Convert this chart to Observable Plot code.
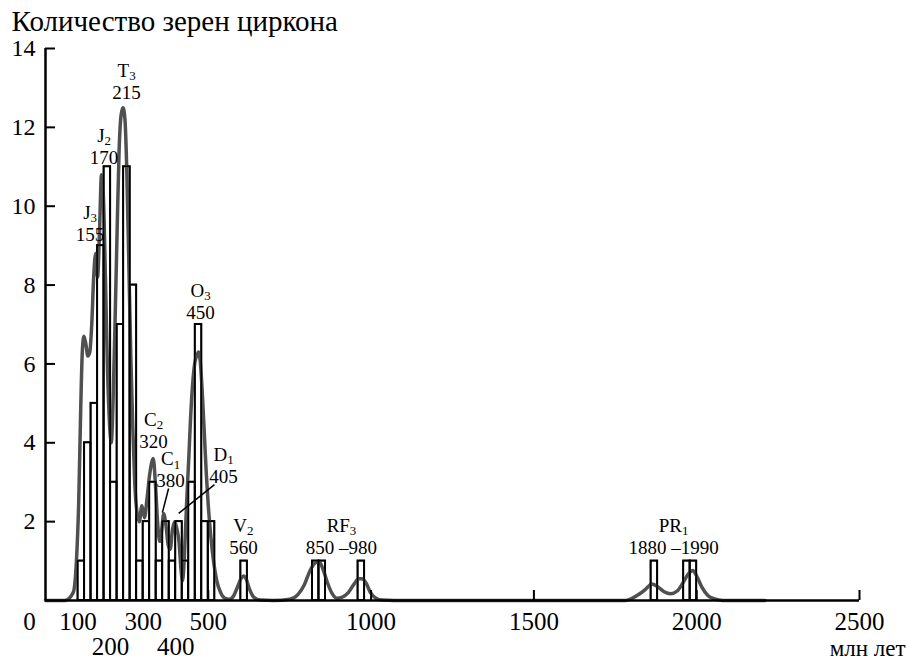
<!DOCTYPE html>
<html><head><meta charset="utf-8">
<script src="https://cdn.jsdelivr.net/npm/d3@7"></script>
<script src="https://cdn.jsdelivr.net/npm/@observablehq/plot@0.6"></script>
<style>
body{margin:0;background:#fff}
#chart svg{display:block}
</style>
</head><body><div id="chart"></div>
<script>
// Histogram: bin start ages (Ma), 20 Ma wide, and grain counts
const binStarts = [100,120,140,160,180,200,220,240,260,280,300,320,340,360,380,400,420,440,460,480,500,600,820,840,960,1860,1960,1980];
const binCounts = [1,4,5,9,11,3,7,11,8,1,2,3,1,2,1,2,1,3,7,2,2,1,1,1,1,1,1,1];
const binWidth = 20;

// Probability density curve
const curveAges = [0,60,85,95,102,108,113,118,124,130,136,142,148,154,160,166,172,178,184,190,196,202,208,214,220,226,232,238,244,250,256,262,268,274,280,288,296,304,312,320,331,338,345,351,357,363,370,377,383,390,397,404,410,416,421,427,433,440,446,452,458,464,470,476,482,488,494,500,508,516,526,538,550,565,578,590,600,608,616,626,640,660,700,750,775,795,812,828,840,852,866,880,895,910,930,948,962,972,984,998,1015,1035,1070,1780,1800,1825,1845,1862,1880,1900,1920,1940,1958,1975,1988,2000,2015,2035,2055,2080,2210];
const curveValues = [0,0,0.2,1.0,2.5,4.8,6.3,6.7,6.5,6.2,6.3,7.0,8.2,8.8,8.2,9.4,10.8,10.2,8.2,6.0,4.6,4.0,5.2,7.2,9.4,11.4,12.3,12.5,12.2,10.8,8.5,6.2,4.4,3.0,2.3,2.0,2.4,2.1,2.6,3.2,3.6,2.9,1.9,1.5,1.8,2.2,1.9,1.4,1.3,1.8,2.0,1.8,1.5,0.8,0.5,1.2,2.4,3.6,4.7,5.5,6.0,6.2,6.3,6.0,5.2,4.2,3.2,2.4,1.6,1.0,0.5,0.2,0.06,0.03,0.12,0.35,0.55,0.62,0.55,0.3,0.08,0.01,0,0.03,0.15,0.4,0.75,0.95,0.98,0.8,0.45,0.18,0.06,0.08,0.2,0.42,0.55,0.55,0.45,0.2,0.06,0.01,0,0,0.05,0.17,0.3,0.42,0.35,0.22,0.17,0.24,0.45,0.68,0.76,0.62,0.35,0.12,0.04,0,0];

// Axes
const yTicks = [2,4,6,8,10,12,14];
const xTickMarks = [500,1000,1500,2000,2500];
const xLabelsUpper = [100,300,500,1000,1500,2000,2500];
const xLabelsLower = [200,400];

// Period annotations
const periodNames = ["T3","J2","J3","C2","C1","D1","O3","V2","RF3","PR1"];
const periodAges = ["215","170","155","320","380","405","450","560","850 –980","1880 –1990"];
const labelAge = [249,180,137,332,384,547,476,608,909,1929];
const labelCount = [12.73,11.08,9.13,3.88,2.87,2.99,7.15,1.19,1.19,1.19];
const leaderX1 = [378,519], leaderY1 = [2.84,2.94];
const leaderX2 = [359,409], leaderY2 = [2.23,2.21];

const title = "Количество зерен циркона";
const unit = "млн лет";

const bins = binStarts.map((s,i) => ({start: s, end: s + binWidth, count: binCounts[i]}));
const curve = curveAges.map((a,i) => ({age: a, value: curveValues[i]}));
const annotations = periodNames.map((n,i) => ({name: n, age: periodAges[i], x: labelAge[i], y: labelCount[i]}));
const leaders = leaderX1.map((x,i) => ({x1: x, y1: leaderY1[i], x2: leaderX2[i], y2: leaderY2[i]}));

const chart = Plot.plot({
  width: 907, height: 662,
  marginLeft: 45, marginRight: 48, marginTop: 48, marginBottom: 62,
  x: {domain: [0, 2500], axis: null},
  y: {domain: [0, 14], axis: null},
  style: {fontSize: "23px", color: "#000", background: "#fff", overflow: "visible"},
  marks: [
    Plot.rectY(bins, {x1: "start", x2: "end", y: "count", fill: "white", stroke: "black", strokeWidth: 2}),
    Plot.line(curve, {x: "age", y: "value", stroke: "#505050", strokeWidth: 3.5, curve: "monotone-x"}),
    Plot.rectY(bins, {x1: "start", x2: "end", y: "count", fill: "none", stroke: "black", strokeWidth: 1.5}),
    Plot.ruleY([0], {stroke: "black", strokeWidth: 2.5}),
    Plot.ruleX([0], {stroke: "black", strokeWidth: 2.5}),
    Plot.axisY(yTicks, {anchor: "left", tickSize: -10, tickPadding: 20, strokeWidth: 2, fontSize: 24, label: null, tickFormat: d => String(d)}),
    Plot.axisX(xTickMarks, {anchor: "bottom", tickSize: -10, strokeWidth: 2, tickFormat: () => "", label: null}),
    Plot.text(["0"], {x: 0, frameAnchor: "bottom", dx: -16, dy: 21, lineAnchor: "middle", fontSize: 25}),
    Plot.text(xLabelsUpper, {x: d => d, frameAnchor: "bottom", dy: 21, lineAnchor: "middle", text: d => String(d), fontSize: 25}),
    Plot.text(xLabelsLower, {x: d => d, frameAnchor: "bottom", dy: 46, lineAnchor: "middle", text: d => String(d), fontSize: 25}),
    Plot.text(annotations, {x: "x", y: "y", text: "name", dy: -22, lineAnchor: "bottom", fontSize: 19}),
    Plot.text(annotations, {x: "x", y: "y", text: "age", lineAnchor: "bottom", fontSize: 19}),
    Plot.link(leaders, {x1: "x1", y1: "y1", x2: "x2", y2: "y2", stroke: "black", strokeWidth: 1.5}),
    Plot.text([title], {frameAnchor: "top-left", dx: -34, dy: -18, textAnchor: "start", lineAnchor: "bottom", fontSize: 29}),
    Plot.text([unit], {frameAnchor: "bottom-right", dx: 46, dy: 55, textAnchor: "end", lineAnchor: "bottom", fontSize: 23})
  ]
});
// Serif face on every text; trailing digit of period codes as subscript
chart.setAttribute("font-family", "Liberation Serif");
chart.querySelectorAll("text").forEach(t => {
  t.setAttribute("font-family", "Liberation Serif");
  const s = t.textContent;
  if (/^[A-Z]+\d$/.test(s)) {
    t.textContent = s.slice(0, -1);
    const ts = document.createElementNS("http://www.w3.org/2000/svg", "tspan");
    ts.setAttribute("dy", "0.25em");
    ts.setAttribute("font-size", "0.68em");
    ts.textContent = s.slice(-1);
    t.appendChild(ts);
  }
});
document.getElementById("chart").appendChild(chart);
</script>
</body></html>
